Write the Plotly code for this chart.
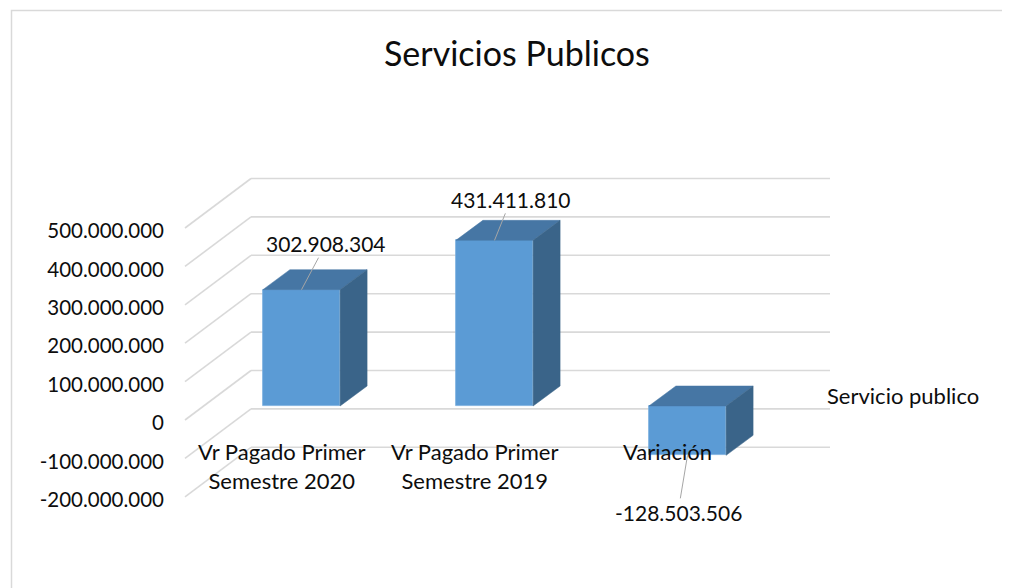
import plotly.graph_objects as go

# ---------------- data ----------------
CATEGORIES = ["Vr Pagado Primer<br>Semestre 2020", "Vr Pagado Primer<br>Semestre 2019", "Variación"]
VALUES = [302908304, 431411810, -128503506]
TICK_VALUES = [-200000000, -100000000, 0, 100000000, 200000000, 300000000, 400000000, 500000000]
SERIES_NAME = "Servicio publico"
TITLE = "Servicios Publicos"


def fmt(v):
    s = f"{abs(int(v)):,}".replace(",", ".")
    return ("-" if v < 0 else "") + s


# ---------------- layout constants (pixel geometry of the pseudo-3D view) ----------------
PAGE_MARGIN = 8          # default body margin of the html page
W, H = 1010 - PAGE_MARGIN, 588 - PAGE_MARGIN
CAT_PX = 193.0           # pixels per category step
CAT0_PX = 301.5 - PAGE_MARGIN   # pixel x of first category centre (bar front plane)
VAL_PX = 38.4e-8         # pixels per value unit
ZERO_PX = 406.0 - PAGE_MARGIN   # pixel y of value 0 in the bar front plane

FRONT = (-20.0, -14.0)  # offset of front edge of floor (dx px, up px)
BACK = (46.0, 35.5)     # offset of back wall
DEPTH = (27.0, 20.0)    # depth of a bar
TICK_LABEL_DROP = (0.0, -3.0)   # small visual nudge of the value labels
BAR_W = 0.4
FONT = "Lato"
TXT = "#0d0d0d"
GRID = "#d9d9d9"
FRONT_C = "#5B9BD5"
TOP_C = "#4676A4"
SIDE_C = "#3A6489"

x_range = [(0 - CAT0_PX) / CAT_PX, (W - CAT0_PX) / CAT_PX]
y_range = [(ZERO_PX - H) / VAL_PX, ZERO_PX / VAL_PX]


def px_x(x):
    return (x - PAGE_MARGIN) / W


def px_y(y):
    return 1 - (y - PAGE_MARGIN) / H


def shift(x, y, d):
    return x + d[0] / CAT_PX, y + d[1] / VAL_PX


n = len(VALUES)
x_idx = list(range(n))
x_lo, x_hi = -0.5, n - 0.5

shapes = []
# chart frame
shapes.append(dict(type="rect", xref="paper", yref="paper",
                   x0=px_x(11.5), x1=1.2, y0=-0.2, y1=px_y(10.5),
                   line=dict(color=GRID, width=1.5), layer="below"))
# gridlines: side wall (oblique) + back wall (horizontal)
for v in TICK_VALUES:
    fx, fy = shift(x_lo, v, FRONT)
    bx, by = shift(x_lo, v, BACK)
    rx, ry = shift(x_hi, v, BACK)
    for (a, b, c, d) in [(fx, fy, bx, by), (bx, by, rx, ry)]:
        shapes.append(dict(type="line", xref="x", yref="y", x0=a, y0=b, x1=c, y1=d,
                           line=dict(color=GRID, width=1.6), layer="below"))

fig = go.Figure()

# front faces of the columns
fig.add_trace(go.Bar(x=x_idx, y=VALUES, width=BAR_W, name=SERIES_NAME,
                     marker=dict(color=FRONT_C, line=dict(color="#7aaede", width=0.8)),
                     showlegend=False, hoverinfo="y"))

# top and side faces
for i, v in zip(x_idx, VALUES):
    top, bot = max(v, 0), min(v, 0)
    xl, xr = i - BAR_W / 2, i + BAR_W / 2
    p2 = shift(xr, top, DEPTH)
    p3 = shift(xl, top, DEPTH)
    fig.add_trace(go.Scatter(x=[xl, xr, p2[0], p3[0], xl], y=[top, top, p2[1], p3[1], top],
                             fill="toself", fillcolor=TOP_C, mode="lines",
                             line=dict(color=TOP_C, width=0.5), showlegend=False, hoverinfo="skip"))
    q3 = shift(xr, bot, DEPTH)
    fig.add_trace(go.Scatter(x=[xr, xr, p2[0], q3[0], xr], y=[bot, top, p2[1], q3[1], bot],
                             fill="toself", fillcolor=SIDE_C, mode="lines",
                             line=dict(color=SIDE_C, width=0.5), showlegend=False, hoverinfo="skip"))

annotations = []
# data labels with leader lines
LABEL_OFFSETS = [(24.5, -46), (16.5, -41), (-9.5, 57)]
for i, v, (ax, ay) in zip(x_idx, VALUES, LABEL_OFFSETS):
    annotations.append(dict(x=i, y=v, xref="x", yref="y", text=fmt(v), showarrow=True,
                            arrowhead=0, arrowwidth=1, arrowcolor="#a6a6a6", ax=ax, ay=ay,
                            standoff=0, font=dict(family=FONT, size=21, color=TXT)))
# category labels on the front edge of the floor
for i, c in zip(x_idx, CATEGORIES):
    cx, cy = shift(i, 0, FRONT)
    annotations.append(dict(x=cx, y=cy, xref="x", yref="y", text=c, showarrow=False,
                            xanchor="center", yanchor="top", yshift=-16, align="center",
                            font=dict(family=FONT, size=22, color=TXT)))
# title
annotations.append(dict(x=px_x(517.5), y=px_y(53), xref="paper", yref="paper", text=TITLE,
                        showarrow=False, xanchor="center", yanchor="middle",
                        font=dict(family=FONT, size=34, color=TXT)))
# legend entry
annotations.append(dict(x=px_x(825), y=px_y(395.5), xref="paper", yref="paper", text=SERIES_NAME,
                        showarrow=False, xanchor="left", yanchor="middle",
                        font=dict(family=FONT, size=22, color=TXT)))

tick_pos = [shift(*shift(0, v, FRONT), TICK_LABEL_DROP)[1] for v in TICK_VALUES]

fig.update_layout(
    width=W, height=H, autosize=False,
    margin=dict(l=0, r=0, t=0, b=0, pad=0),
    paper_bgcolor="white", plot_bgcolor="white",
    showlegend=False,
    shapes=shapes, annotations=annotations,
    xaxis=dict(range=x_range, visible=False, fixedrange=True),
    yaxis=dict(range=y_range, anchor="free", position=px_x(185), tickmode="array",
               tickvals=tick_pos, ticktext=[fmt(v) for v in TICK_VALUES],
               showgrid=False, zeroline=False, showline=False, ticks="",
               ticklabelstandoff=21, tickfont=dict(family=FONT, size=20.5, color=TXT),
               fixedrange=True),
    bargap=0,
)

fig.write_html("out.html")
